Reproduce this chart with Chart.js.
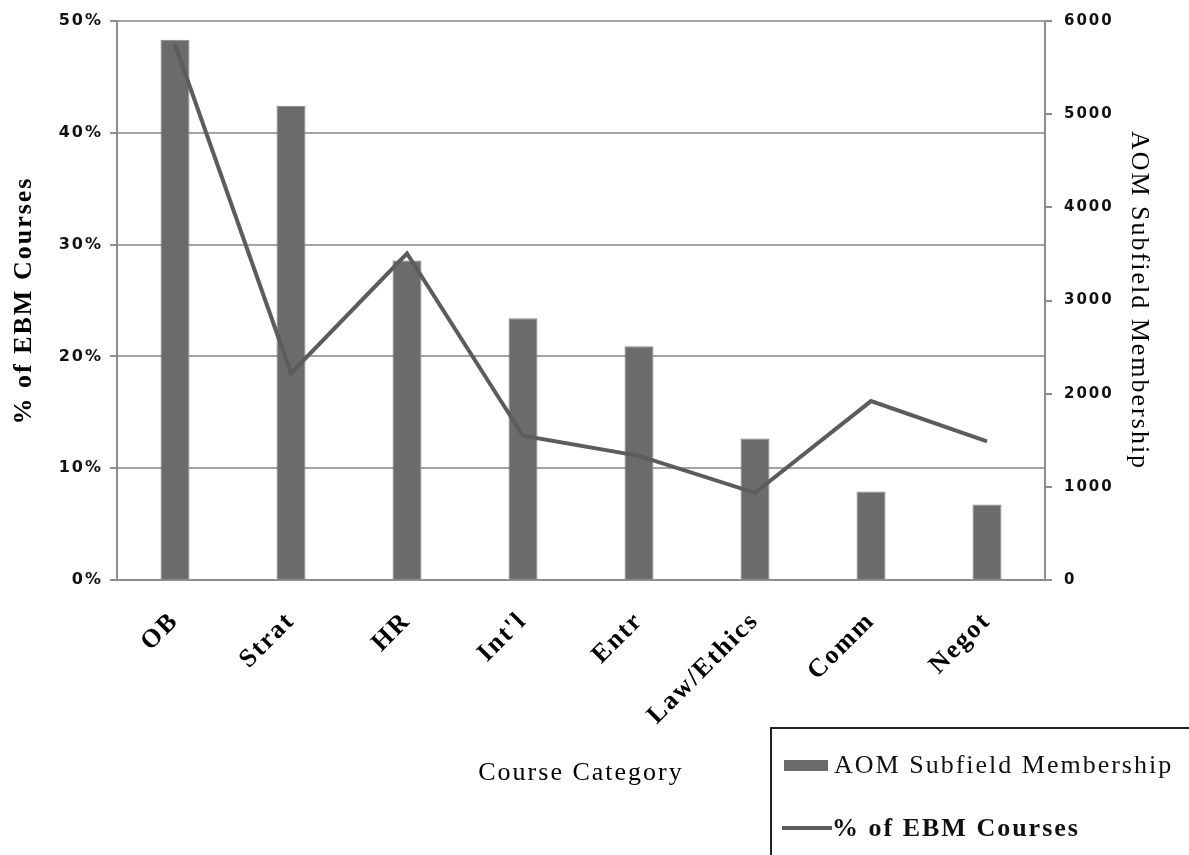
<!DOCTYPE html>
<html>
<head>
<meta charset="utf-8">
<script src="https://cdn.jsdelivr.net/npm/chart.js@4.4.1/dist/chart.umd.min.js"></script>
<style>
html,body{margin:0;padding:0;background:#fff;}
#wrap{position:relative;width:1189px;height:855px;overflow:hidden;background:#fff;}
canvas{display:block;}
#legend{position:absolute;left:770px;top:727px;width:440px;height:150px;border:2px solid #222;box-sizing:border-box;
  font-family:"Liberation Serif","Times New Roman",serif;font-size:26px;letter-spacing:2px;color:#111;}
.item{position:absolute;display:flex;align-items:center;white-space:nowrap;height:30px;line-height:30px;}
</style>
</head>
<body>
<div id="wrap">
  <canvas id="c" width="1189" height="855"></canvas>
  <div id="legend"></div>
</div>
<script>
const categories = ['OB', 'Strat', 'HR', "Int'l", 'Entr', 'Law/Ethics', 'Comm', 'Negot'];
const membership = [5800, 5090, 3430, 2810, 2510, 1520, 950, 810];
const ebmPercent = [47.9, 18.5, 29.2, 12.9, 11.1, 7.8, 16.0, 12.4];
const percentTicks = [0, 10, 20, 30, 40, 50];
const membershipTicks = [0, 1000, 2000, 3000, 4000, 5000, 6000];
const barLabel = 'AOM Subfield Membership';
const lineLabel = '% of EBM Courses';

const serif = "'Liberation Serif','Times New Roman',serif";
const sans = "'DejaVu Sans',Verdana,sans-serif";
const axisGray = '#8c8c8c';

const spacing = {
  id: 'spacing',
  beforeUpdate(c) { c.ctx.letterSpacing = '2px'; },
  beforeLayout(c) { c.ctx.letterSpacing = '2px'; },
  beforeDraw(c) { c.ctx.letterSpacing = '2px'; }
};

const chart = new Chart(document.getElementById('c'), {
  data: {
    labels: categories,
    datasets: [
      {
        type: 'line', label: lineLabel, data: ebmPercent, yAxisID: 'y', order: 0,
        borderColor: '#5c5c5c', backgroundColor: '#5c5c5c', borderWidth: 4,
        pointRadius: 0, tension: 0, fill: false
      },
      {
        type: 'bar', label: barLabel, data: membership, yAxisID: 'y1', order: 1,
        backgroundColor: '#6b6b6b', borderColor: '#878787', borderWidth: 1,
        barPercentage: 0.25, categoryPercentage: 1
      }
    ]
  },
  options: {
    responsive: false,
    devicePixelRatio: 1,
    animation: false,
    layout: { padding: { top: 20, left: 0, right: 0, bottom: 0 } },
    plugins: { legend: { display: false }, tooltip: { enabled: false } },
    scales: {
      x: {
        offset: true,
        grid: { display: false, drawTicks: false },
        border: { display: true, color: axisGray, width: 2 },
        ticks: {
          minRotation: 45, maxRotation: 45, autoSkip: false, padding: 26,
          font: { family: serif, size: 26, weight: 'bold' }, color: '#000'
        },
        title: {
          display: true, text: 'Course Category', color: '#000',
          font: { family: serif, size: 26 }, padding: { top: 0, bottom: 66 }
        },
        afterFit(s) { s.height = 275; }
      },
      y: {
        position: 'left', min: 0, max: 50,
        afterBuildTicks(s) { s.ticks = percentTicks.map(v => ({ value: v })); },
        ticks: {
          callback: v => v + '%', padding: 7,
          font: { family: sans, size: 16, weight: 'bold' }, color: '#111'
        },
        grid: { color: '#a3a3a3', lineWidth: 2, tickLength: 7, tickColor: axisGray, tickWidth: 2 },
        border: { display: true, color: axisGray, width: 2 },
        title: {
          display: true, text: lineLabel, color: '#000',
          font: { family: serif, size: 26, weight: 'bold' }, padding: { top: 9, bottom: 0 }
        },
        afterFit(s) { s.width = 117; }
      },
      y1: {
        position: 'right', min: 0, max: 6000,
        afterBuildTicks(s) { s.ticks = membershipTicks.map(v => ({ value: v })); },
        ticks: {
          callback: v => String(v), padding: 12,
          font: { family: sans, size: 15, weight: 'bold' }, color: '#111'
        },
        grid: { drawOnChartArea: false, tickLength: 7, color: axisGray, lineWidth: 2 },
        border: { display: true, color: axisGray, width: 2 },
        title: {
          display: true, text: barLabel, color: '#000',
          font: { family: serif, size: 26 }, padding: { top: 35, bottom: 0 }
        },
        afterFit(s) { s.width = 144; }
      }
    }
  },
  plugins: [spacing]
});

// HTML legend built from the chart's datasets
const legend = document.getElementById('legend');
const barDs = chart.data.datasets.find(d => d.type === 'bar');
const lineDs = chart.data.datasets.find(d => d.type === 'line');
legend.innerHTML =
  '<div class="item" style="left:12px;top:21px;">' +
    '<span style="display:inline-block;width:44px;height:11px;background:' + barDs.backgroundColor + ';margin-right:6px;"></span>' +
    '<span>' + barDs.label + '</span></div>' +
  '<div class="item" style="left:10px;top:84px;">' +
    '<span style="display:inline-block;width:50px;height:4px;background:' + lineDs.borderColor + ';"></span>' +
    '<span style="font-weight:bold;">' + lineDs.label + '</span></div>';
</script>
</body>
</html>
